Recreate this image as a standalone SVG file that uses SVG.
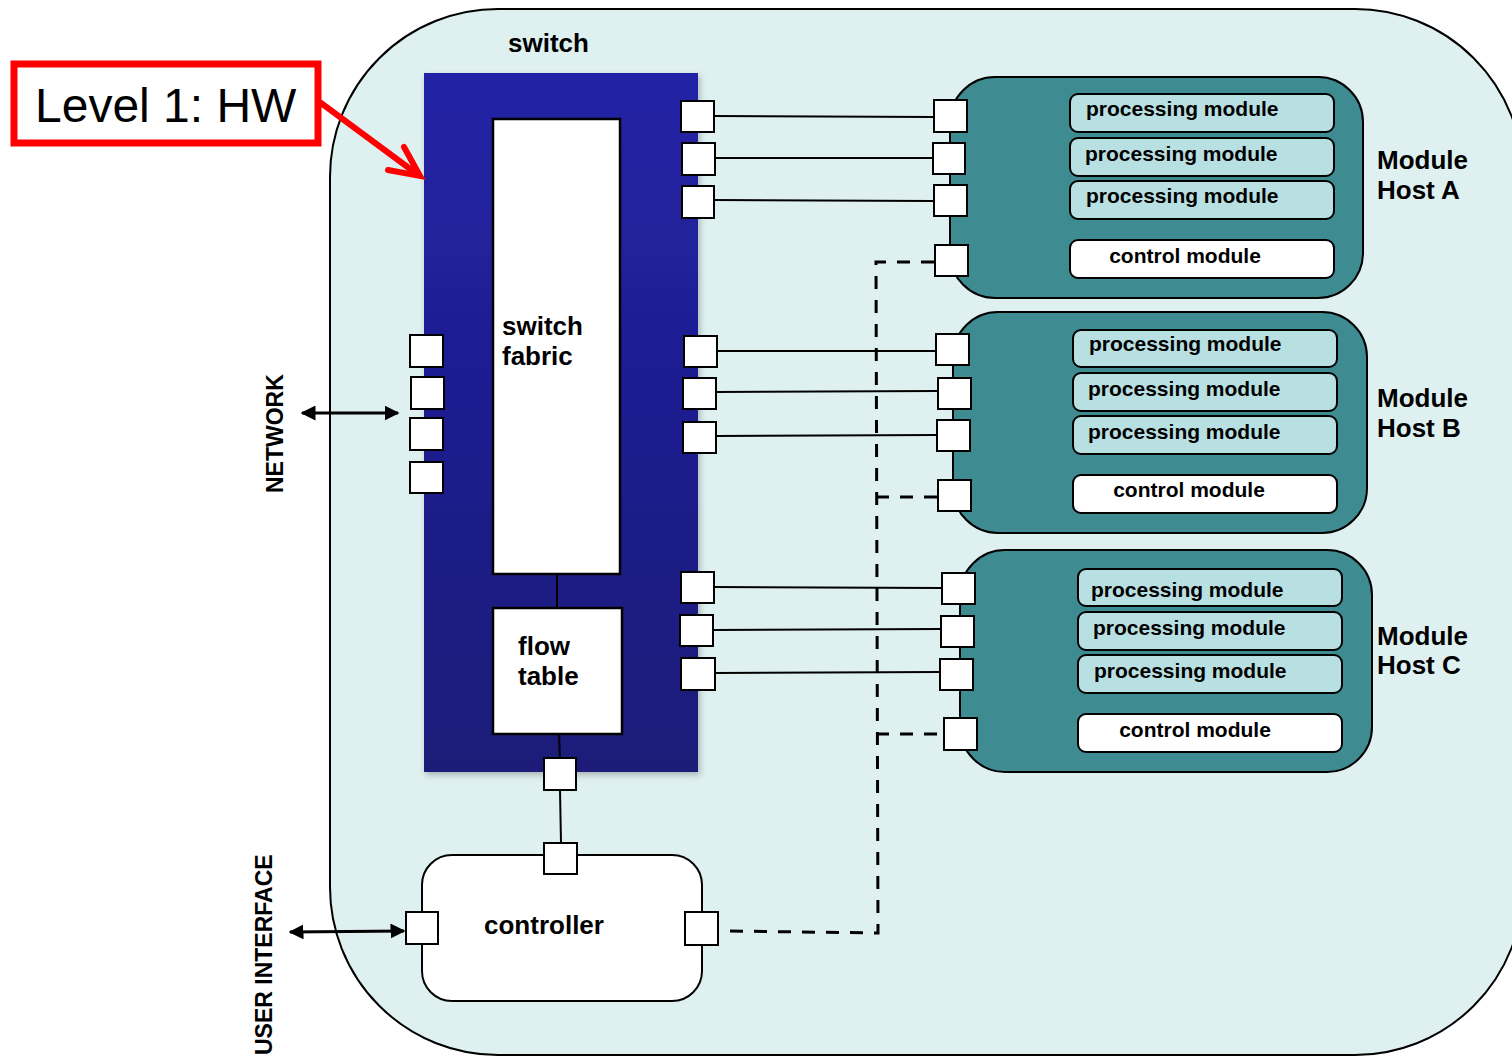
<svg xmlns="http://www.w3.org/2000/svg" width="1512" height="1057" viewBox="0 0 1512 1057">
<defs>
<linearGradient id="blue" x1="0" y1="0" x2="0" y2="1">
<stop offset="0" stop-color="#2222a6"/>
<stop offset="1" stop-color="#1a1a78"/>
</linearGradient>
<marker id="ah" viewBox="0 0 10 10" refX="9" refY="5" markerWidth="5" markerHeight="5" orient="auto-start-reverse" markerUnits="strokeWidth">
<path d="M0,0 L10,5 L0,10 z" fill="#000"/>
</marker>
<filter id="sh" x="-10%" y="-10%" width="125%" height="125%">
<feDropShadow dx="2" dy="3" stdDeviation="3" flood-color="#000" flood-opacity="0.25"/>
</filter>
</defs>
<style>
.b{font-family:"Liberation Sans",Arial,sans-serif;font-weight:bold;fill:#000}
.port{fill:#fff;stroke:#000;stroke-width:2}
.host{fill:#3e8b91;stroke:#000;stroke-width:2}
.pm{fill:#b8dfe2;stroke:#000;stroke-width:2}
.cm{fill:#fff;stroke:#000;stroke-width:2}
.ln{stroke:#000;stroke-width:2;fill:none}
.dash{stroke:#000;stroke-width:3;fill:none;stroke-dasharray:13 11}
.t21{font-size:21px}
.t26{font-size:26px}
</style>
<rect width="1512" height="1057" fill="#fff"/>

<g id="switch">
<rect x="330" y="9" width="1193" height="1046" rx="168" fill="#dff0f0" stroke="#000" stroke-width="2"/>
<text class="b t26" x="508" y="52">switch</text>
</g>

<g id="switch-hw">
<rect x="424" y="73" width="274" height="699" fill="url(#blue)" filter="url(#sh)"/>
</g>

<g id="switch-fabric">
<rect x="493" y="119" width="127" height="455" fill="#fff" stroke="#000" stroke-width="2.5"/>
<text class="b t26" x="502" y="335">switch</text>
<text class="b t26" x="502" y="365">fabric</text>
</g>

<g id="flow-table">
<rect x="493" y="608" width="129" height="126" fill="#fff" stroke="#000" stroke-width="2.5"/>
<text class="b t26" x="518" y="655">flow</text>
<text class="b t26" x="518" y="685">table</text>
</g>

<g id="controller">
<rect x="422" y="855" width="280" height="146" rx="30" fill="#fff" stroke="#000" stroke-width="2"/>
<text class="b t26" x="544" y="934" text-anchor="middle">controller</text>
</g>

<g id="host-a">
<rect class="host" x="950" y="77" width="413" height="221" rx="45"/>
<rect class="pm" x="1070" y="94" width="264" height="38" rx="8"/>
<rect class="pm" x="1070" y="138" width="264" height="38" rx="8"/>
<rect class="pm" x="1070" y="181" width="264" height="38" rx="8"/>
<rect class="cm" x="1070" y="240" width="264" height="38" rx="8"/>
<text class="b t21" x="1086" y="116">processing module</text>
<text class="b t21" x="1085" y="161">processing module</text>
<text class="b t21" x="1086" y="203">processing module</text>
<text class="b t21" x="1185" y="263" text-anchor="middle">control module</text>
<text class="b t26" x="1377" y="169">Module</text>
<text class="b t26" x="1377" y="199">Host A</text>
</g>

<g id="host-b">
<rect class="host" x="953" y="312" width="414" height="221" rx="45"/>
<rect class="pm" x="1073" y="330" width="264" height="37" rx="8"/>
<rect class="pm" x="1073" y="373" width="264" height="38" rx="8"/>
<rect class="pm" x="1073" y="416" width="264" height="38" rx="8"/>
<rect class="cm" x="1073" y="475" width="264" height="38" rx="8"/>
<text class="b t21" x="1089" y="351">processing module</text>
<text class="b t21" x="1088" y="396">processing module</text>
<text class="b t21" x="1088" y="439">processing module</text>
<text class="b t21" x="1189" y="497" text-anchor="middle">control module</text>
<text class="b t26" x="1377" y="407">Module</text>
<text class="b t26" x="1377" y="437">Host B</text>
</g>

<g id="host-c">
<rect class="host" x="960" y="550" width="412" height="222" rx="45"/>
<rect class="pm" x="1078" y="569" width="264" height="37" rx="8"/>
<rect class="pm" x="1078" y="612" width="264" height="38" rx="8"/>
<rect class="pm" x="1078" y="655" width="264" height="38" rx="8"/>
<rect class="cm" x="1078" y="714" width="264" height="38" rx="8"/>
<text class="b t21" x="1091" y="597">processing module</text>
<text class="b t21" x="1093" y="635">processing module</text>
<text class="b t21" x="1094" y="678">processing module</text>
<text class="b t21" x="1195" y="737" text-anchor="middle">control module</text>
<text class="b t26" x="1377" y="645">Module</text>
<text class="b t26" x="1377" y="674">Host C</text>
</g>

<g id="connectors">
<line class="ln" x1="557" y1="574" x2="557" y2="608"/>
<line class="ln" x1="559" y1="734" x2="560" y2="760"/>
<line class="ln" x1="560" y1="790" x2="561" y2="843"/>
<line class="ln" x1="714" y1="116" x2="934" y2="117"/>
<line class="ln" x1="715" y1="158" x2="933" y2="158"/>
<line class="ln" x1="714" y1="200" x2="934" y2="201"/>
<line class="ln" x1="717" y1="351" x2="936" y2="351"/>
<line class="ln" x1="716" y1="392" x2="938" y2="391"/>
<line class="ln" x1="716" y1="436" x2="937" y2="435"/>
<line class="ln" x1="714" y1="587" x2="942" y2="588"/>
<line class="ln" x1="713" y1="630" x2="941" y2="629"/>
<line class="ln" x1="715" y1="673" x2="940" y2="672"/>
<path class="dash" d="M730,931 L878,933 L876,262 L935,262"/>
<path class="dash" d="M876,497 L940,497"/>
<path class="dash" d="M876,734 L945,734"/>
<line x1="302" y1="413" x2="398" y2="413" stroke="#000" stroke-width="3" marker-start="url(#ah)" marker-end="url(#ah)"/>
<line x1="290" y1="932" x2="404" y2="931" stroke="#000" stroke-width="3" marker-start="url(#ah)" marker-end="url(#ah)"/>
</g>

<g id="ports">
<rect class="port" x="410" y="335" width="33" height="32"/>
<rect class="port" x="411" y="377" width="33" height="32"/>
<rect class="port" x="410" y="418" width="33" height="32"/>
<rect class="port" x="410" y="462" width="33" height="31"/>
<rect class="port" x="681" y="101" width="33" height="31"/>
<rect class="port" x="682" y="143" width="33" height="32"/>
<rect class="port" x="682" y="186" width="32" height="32"/>
<rect class="port" x="684" y="336" width="33" height="31"/>
<rect class="port" x="683" y="378" width="33" height="31"/>
<rect class="port" x="683" y="422" width="33" height="31"/>
<rect class="port" x="681" y="572" width="33" height="31"/>
<rect class="port" x="680" y="615" width="33" height="31"/>
<rect class="port" x="681" y="658" width="34" height="32"/>
<rect class="port" x="544" y="758" width="32" height="32"/>
<rect class="port" x="544" y="843" width="33" height="31"/>
<rect class="port" x="406" y="912" width="32" height="32"/>
<rect class="port" x="685" y="912" width="33" height="33"/>
<rect class="port" x="934" y="100" width="33" height="32"/>
<rect class="port" x="933" y="143" width="32" height="31"/>
<rect class="port" x="934" y="185" width="33" height="31"/>
<rect class="port" x="935" y="245" width="33" height="31"/>
<rect class="port" x="936" y="334" width="33" height="31"/>
<rect class="port" x="938" y="378" width="33" height="31"/>
<rect class="port" x="937" y="420" width="33" height="31"/>
<rect class="port" x="938" y="480" width="33" height="31"/>
<rect class="port" x="942" y="573" width="33" height="31"/>
<rect class="port" x="941" y="616" width="33" height="31"/>
<rect class="port" x="940" y="659" width="33" height="31"/>
<rect class="port" x="944" y="718" width="33" height="32"/>
</g>

<g id="network-label">
<text class="b" font-size="23" transform="translate(283,493) rotate(-90)">NETWORK</text>
</g>
<g id="user-interface-label">
<text class="b" font-size="23" transform="translate(272,1055) rotate(-90)">USER INTERFACE</text>
</g>

<g id="level-label">
<rect x="14" y="64" width="304" height="79" fill="#fff" stroke="#ff0000" stroke-width="7"/>
<text x="35" y="122" font-family="'Liberation Sans',Arial,sans-serif" font-size="48" fill="#000">Level 1: HW</text>
<path d="M321,103 L417,174" stroke="#ff0000" stroke-width="6" fill="none" stroke-linecap="round"/>
<path d="M404,147 L420,176 L388,170" stroke="#ff0000" stroke-width="6" fill="none" stroke-linecap="round" stroke-linejoin="miter"/>
</g>
</svg>
